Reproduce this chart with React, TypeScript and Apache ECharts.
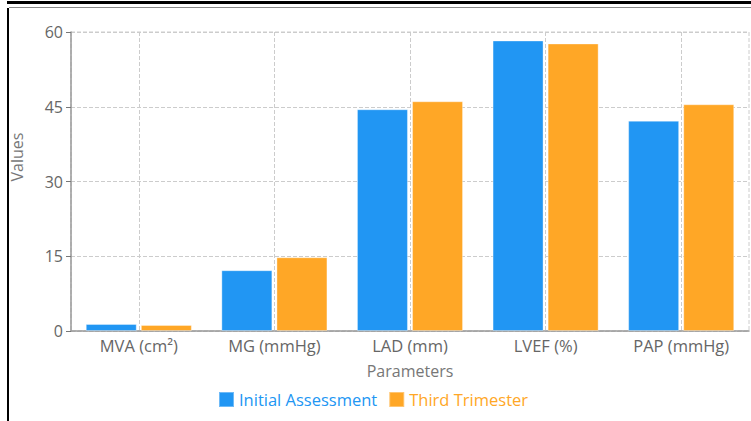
import React, { useEffect, useRef } from "react";
import * as echarts from "echarts";

const categories = ["MVA (cm²)", "MG (mmHg)", "LAD (mm)", "LVEF (%)", "PAP (mmHg)"];
const initialAssessment = [1.4, 12.2, 44.5, 58.3, 42.2];
const thirdTrimester = [1.2, 14.8, 46.1, 57.7, 45.5];
const yTicks = { min: 0, max: 60, interval: 15 };

const FONT = "'Open Sans', 'Noto Sans', sans-serif";
const BLUE = "#2196F3";
const ORANGE = "#FFA726";

export default function App() {
  const ref = useRef<HTMLDivElement>(null);
  useEffect(() => {
    if (!ref.current) return;
    const chart = echarts.init(ref.current, null, { renderer: "svg" });
    chart.setOption({
      animation: false,
      textStyle: { fontFamily: FONT },
      grid: {
        left: 71,
        right: 2,
        top: 32,
        bottom: 90,
        show: true,
        borderColor: "#ccc",
        borderWidth: 1,
        borderType: "dashed",
      },
      legend: {
        bottom: 8,
        left: 213,
        itemWidth: 15,
        itemHeight: 15,
        itemGap: 11,
        icon: "rect",
        data: [
          { name: "Initial Assessment", textStyle: { color: BLUE } },
          { name: "Third Trimester", textStyle: { color: ORANGE } },
        ],
        textStyle: { fontSize: 16.5, fontFamily: FONT },
      },
      xAxis: {
        type: "category",
        data: categories,
        name: "Parameters",
        nameLocation: "middle",
        nameGap: 32,
        nameTextStyle: { fontSize: 16, color: "#777", fontFamily: FONT },
        axisLine: { lineStyle: { color: "#999", width: 1.5 } },
        axisTick: { alignWithLabel: true, length: 5, lineStyle: { color: "#777" } },
        axisLabel: { fontSize: 16.5, color: "#666", margin: 6, fontFamily: FONT },
        splitLine: {
          show: true,
          alignWithLabel: true,
          lineStyle: { color: "#ccc", type: "dashed" },
        },
      },
      yAxis: {
        type: "value",
        min: yTicks.min,
        max: yTicks.max,
        interval: yTicks.interval,
        axisLine: { show: true, lineStyle: { color: "#999", width: 1.5 } },
        axisTick: { show: true, length: 5, lineStyle: { color: "#777" } },
        axisLabel: { fontSize: 16, color: "#666", margin: 8, fontFamily: FONT },
        splitLine: { show: true, lineStyle: { color: "#ccc", type: "dashed" } },
      },
      graphic: [
        {
          type: "text",
          x: 17,
          y: 157,
          rotation: Math.PI / 2,
          style: {
            text: "Values",
            fontSize: 16,
            fill: "#777",
            fontFamily: FONT,
            align: "center",
            verticalAlign: "middle",
          },
        },
      ],
      series: [
        {
          name: "Initial Assessment",
          type: "bar",
          data: initialAssessment,
          barWidth: 51,
          barGap: "8%",
          itemStyle: { color: BLUE, borderColor: "rgba(255,255,255,0.35)", borderWidth: 1 },
        },
        {
          name: "Third Trimester",
          type: "bar",
          data: thirdTrimester,
          barWidth: 51,
          itemStyle: { color: ORANGE, borderColor: "rgba(255,255,255,0.35)", borderWidth: 1 },
        },
      ],
    });
    return () => chart.dispose();
  }, []);

  return (
    <div>
      <div
        ref={ref}
        style={{ position: "fixed", left: 0, top: 0, width: 751, height: 421, background: "#fff" }}
      />
      <div style={{ position: "fixed", left: 7, top: 1, right: 0, height: 3, background: "#000" }} />
      <div style={{ position: "fixed", left: 9, top: 7, right: 0, height: 1, background: "#888" }} />
      <div style={{ position: "fixed", left: 7, top: 8, bottom: 0, width: 2, background: "#000" }} />
    </div>
  );
}
